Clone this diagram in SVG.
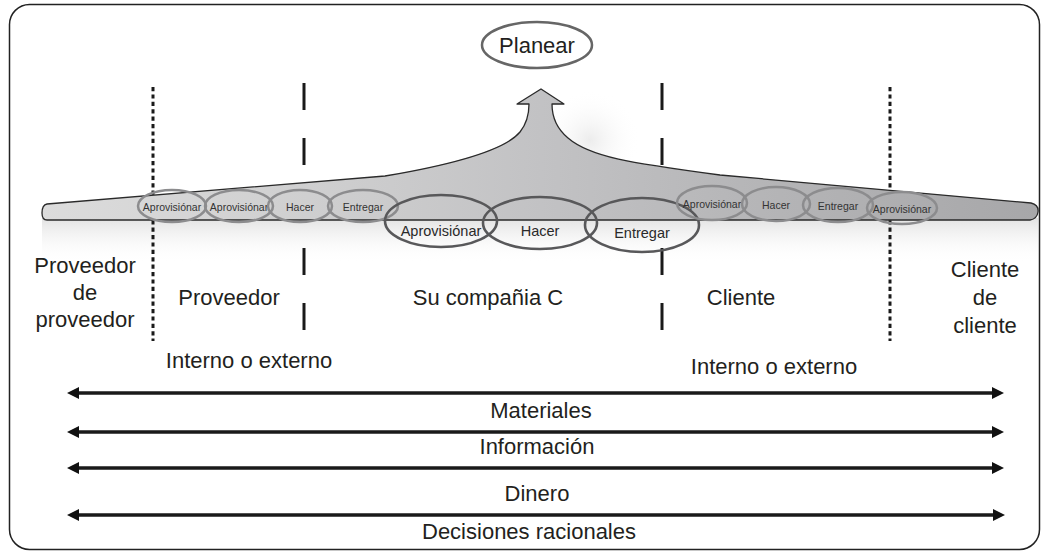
<svg xmlns="http://www.w3.org/2000/svg" width="1044" height="554" viewBox="0 0 1044 554">
<style>
.lbl{font-family:"Liberation Sans",Arial,sans-serif;font-size:22px;fill:#231f20;text-anchor:middle}
.sm{font-family:"Liberation Sans",Arial,sans-serif;font-size:10.5px;fill:#333;text-anchor:middle}
.lg{font-family:"Liberation Sans",Arial,sans-serif;font-size:14.5px;fill:#2a2a2a;text-anchor:middle}
.e1{fill:none;stroke:#8c8c8e;stroke-width:2.5}
.e2{fill:none;stroke:#58585a;stroke-width:2.6}
.dot{stroke:#1a1a1a;stroke-width:3;stroke-dasharray:4.2 3.2;fill:none}
.dash{stroke:#1a1a1a;stroke-width:3;stroke-dasharray:27 28;fill:none}
.flow{stroke:#1a1a1a;stroke-width:3.3;fill:none;marker-start:url(#ah);marker-end:url(#ah)}
</style>
<defs>
<marker id="ah" viewBox="0 0 12 12" refX="6" refY="6" markerWidth="12" markerHeight="12" markerUnits="userSpaceOnUse" orient="auto-start-reverse">
<path d="M0,0 L12,6 L0,12 Z" fill="#111"/>
</marker>
<linearGradient id="band" gradientUnits="userSpaceOnUse" x1="42" y1="0" x2="1040" y2="0">
<stop offset="0" stop-color="#dcdcdc"/>
<stop offset="0.35" stop-color="#cbcbcc"/>
<stop offset="0.5" stop-color="#c2c2c4"/>
<stop offset="0.7" stop-color="#b6b6b8"/>
<stop offset="1" stop-color="#a7a7a9"/>
</linearGradient>
<linearGradient id="shade" x1="0" y1="0" x2="0" y2="1">
<stop offset="0" stop-color="#e2e2e2"/>
<stop offset="1" stop-color="#ffffff" stop-opacity="0"/>
</linearGradient>
<radialGradient id="glow" cx="0.5" cy="0.5" r="0.5">
<stop offset="0" stop-color="#ececec"/>
<stop offset="1" stop-color="#ffffff" stop-opacity="0"/>
</radialGradient>
</defs>

<rect x="9.5" y="4.5" width="1030" height="545" rx="20" ry="20" fill="#fff" stroke="#222" stroke-width="1.5"/>

<g id="shadow">
<rect x="42" y="218" width="996" height="45" fill="url(#shade)"/>
<ellipse cx="590" cy="140" rx="50" ry="50" fill="url(#glow)"/>
</g>

<g id="dividers">
<line class="dot" x1="153" y1="87" x2="153" y2="341"/>
<line class="dash" x1="304" y1="83" x2="304" y2="330"/>
<line class="dash" x1="662" y1="83" x2="662" y2="330"/>
<line class="dot" x1="890" y1="87" x2="890" y2="341"/>
</g>

<g id="band-shape">
<path d="M47,204 L385,176 C450,165 505,150 520,132 C528,122 529,112 529,104 L517,104 L541,89 L564,104 L552,104 C552,116 556,128 568,138 C590,157 630,163 720,175 L1031,203 Q1039,205 1038,212 Q1037,219 1030,220 L47,220 Q42,220 42,213 Q42,205 47,204 Z" fill="url(#band)" stroke="#2a2a2a" stroke-width="1.3" stroke-linejoin="round"/>
</g>

<g id="planear">
<ellipse cx="537" cy="45" rx="55" ry="23" fill="#fff" stroke="#666" stroke-width="2.5"/>
<text class="lbl" x="537" y="53">Planear</text>
</g>

<g id="proveedor-procesos">
<ellipse class="e1" cx="172" cy="206" rx="34" ry="16"/>
<text class="sm" x="172" y="211">Aprovisiónar</text>
<ellipse class="e1" cx="239" cy="206" rx="34" ry="16"/>
<text class="sm" x="239" y="211">Aprovisiónar</text>
<ellipse class="e1" cx="300" cy="206" rx="32" ry="16"/>
<text class="sm" x="300" y="211">Hacer</text>
<ellipse class="e1" cx="363" cy="206" rx="35" ry="16"/>
<text class="sm" x="363" y="211">Entregar</text>
</g>

<g id="compania-procesos">
<ellipse class="e2" cx="441" cy="221" rx="56" ry="26"/>
<text class="lg" x="441" y="236">Aprovisiónar</text>
<ellipse class="e2" cx="540" cy="223" rx="57" ry="26"/>
<text class="lg" x="540" y="236">Hacer</text>
<ellipse class="e2" cx="642" cy="225" rx="57" ry="27"/>
<text class="lg" x="642" y="238">Entregar</text>
</g>

<g id="cliente-procesos">
<ellipse class="e1" cx="712" cy="203" rx="35" ry="17"/>
<text class="sm" x="712" y="208">Aprovisiónar</text>
<ellipse class="e1" cx="776" cy="204" rx="34" ry="17"/>
<text class="sm" x="776" y="209">Hacer</text>
<ellipse class="e1" cx="838" cy="205" rx="35" ry="17"/>
<text class="sm" x="838" y="210">Entregar</text>
<ellipse class="e1" cx="902" cy="208" rx="35" ry="16"/>
<text class="sm" x="902" y="213">Aprovisiónar</text>
</g>

<g id="etiquetas">
<text class="lbl" x="85" y="273">Proveedor</text>
<text class="lbl" x="85" y="300">de</text>
<text class="lbl" x="85" y="327">proveedor</text>
<text class="lbl" x="229" y="305">Proveedor</text>
<text class="lbl" x="488" y="305">Su compañia C</text>
<text class="lbl" x="741" y="305">Cliente</text>
<text class="lbl" x="985" y="277">Cliente</text>
<text class="lbl" x="985" y="305">de</text>
<text class="lbl" x="985" y="333">cliente</text>
<text class="lbl" x="249" y="368">Interno o externo</text>
<text class="lbl" x="774" y="374">Interno o externo</text>
</g>

<g id="flujos">
<line class="flow" x1="73" y1="393" x2="998" y2="393"/>
<line class="flow" x1="73" y1="432" x2="998" y2="432"/>
<line class="flow" x1="73" y1="468" x2="998" y2="468"/>
<line class="flow" x1="73" y1="515" x2="999" y2="515"/>
<text class="lbl" x="541" y="418">Materiales</text>
<text class="lbl" x="537" y="454">Información</text>
<text class="lbl" x="537" y="501">Dinero</text>
<text class="lbl" x="529" y="539">Decisiones racionales</text>
</g>
</svg>
